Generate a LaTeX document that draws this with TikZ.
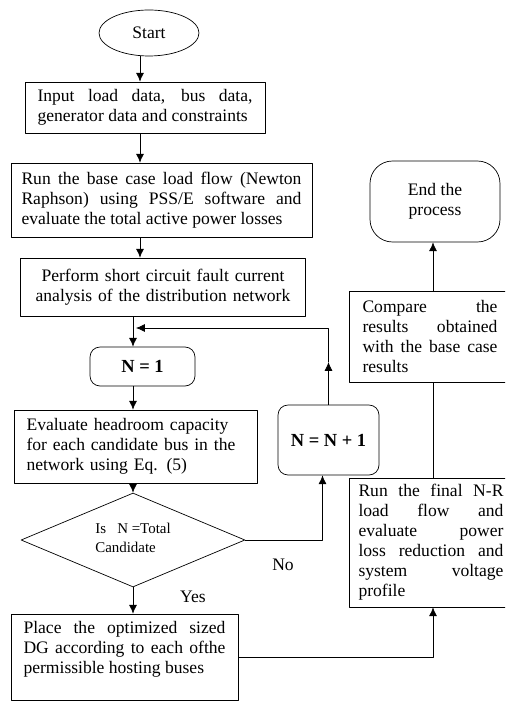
\documentclass[tikz,border=0pt]{standalone}
\usepackage{fontspec}
\setmainfont{Liberation Serif}
\usetikzlibrary{shapes.geometric,calc,arrows.meta}
\begin{document}
\begin{tikzpicture}[x=0.02cm,y=-0.02cm,>={Latex[length=5pt,width=4.5pt]}, font=\fontsize{10}{11.4}\selectfont, line join=round,
    box/.style={draw, rectangle, align=justify, inner xsep=0.25cm, inner ysep=2pt},
    rbox/.style={draw, rectangle, rounded corners=0.2cm, align=center, font=\fontsize{10.5}{12}\selectfont\bfseries},
    lbl/.style={inner sep=1pt}]
    \useasboundingbox (0,0) rectangle (505,702);
    \clip (0,0) rectangle (505,702);
    % columns of the main connectors
    \coordinate (c1) at (140,0);
    \coordinate (c2) at (133,0);
    \coordinate (c3) at (433,0);
    % left column
    \node[draw,ellipse,minimum width=2cm,minimum height=0.92cm] (start) at (149,33) {Start};
    \node[box,text width=4.3cm,minimum height=1.02cm] (input) at (145,107.5) {Input load data, bus data,\linebreak generator data and constraints};
    \node[box,text width=5.6cm,minimum height=1.48cm,inner xsep=0.21cm] (run) at (161.5,200) {Run the base case load flow (Newton\linebreak Raphson) using PSS/E software and\linebreak evaluate the total active power losses};
    \node[box,align=center,text width=5.2cm,minimum height=1.16cm] (perf) at (163,287) {Perform short circuit fault current\\ analysis of the distribution network};
    \node[rbox,minimum width=2.1cm,minimum height=0.78cm] (n1) at (142.5,366.5) {N = 1};
    \node[box,align=left,text width=4.36cm,minimum height=1.46cm] (eval) at (135.5,446.5) {Evaluate headroom capacity\\ for each candidate bus in the\\ network using Eq. (5)};
    \node[draw,diamond,minimum width=4.48cm,minimum height=1.88cm,inner sep=0pt] (dec) at (133,540) {};
    \node[align=left,font=\fontsize{8.5}{10.5}\selectfont] (dectext) at (133,538) {Is\ \ \ N =Total\\ Candidate};
    \node[box,text width=4.04cm,minimum height=1.72cm] (place) at (124.5,657) {Place the optimized sized\linebreak DG according to each ofthe\linebreak permissible hosting buses\\ \mbox{}};
    % right columns
    \node[rbox,minimum width=2.02cm,minimum height=1.4cm] (nn) at (328.5,440) {N = N + 1};
    \node[draw,rectangle,rounded corners=0.45cm,align=center,minimum width=2.6cm,minimum height=1.62cm] (end) at (435,201.5) {End the\\ process};
    \node[box,text width=2.7cm,minimum height=1.82cm,inner xsep=0.26cm] (comp) at (430,336.5) {Compare \hfill the\linebreak results obtained\linebreak with the base case\linebreak results};
    \node[box,text width=2.9cm,minimum height=2.58cm,inner xsep=0.18cm] (final) at (431,542.5) {Run the final N-R\linebreak load flow and\linebreak evaluate power\linebreak loss reduction and\linebreak system voltage\linebreak profile};
    % connectors
    \draw[->] (start.south -| c1) -- (input.north -| c1);
    \draw[->] (input.south -| c1) -- (run.north -| c1);
    \draw[->] (run.south -| c1) -- (perf.north -| c1);
    \draw[->] (perf.south -| c2) -- (n1.north -| c2);
    \draw[->] (n1.south -| c2) -- (eval.north -| c2);
    \draw[->] (eval.south -| c2) -- (dec.north);
    \draw[->] (dec.south) -- (place.north -| c2);
    \coordinate (loop) at (136,328);
    \coordinate (mid) at (328.5,362);
    \draw[->] (nn.north) -- (mid);
    \draw[->] (mid) |- (loop);
    \draw[->] (dec.east) -| ([xshift=-0.12cm]nn.south);
    \draw[->] (place.east) -| (final.south -| c3);
    \draw (final.north -| c3) -- (comp.south -| c3);
    \draw[->] (comp.north -| c3) -- (end.south -| c3);
    \node[lbl] (no) at (283,565) {No};
    \node[lbl] (yes) at (193,597) {Yes};
\end{tikzpicture}
\end{document}
